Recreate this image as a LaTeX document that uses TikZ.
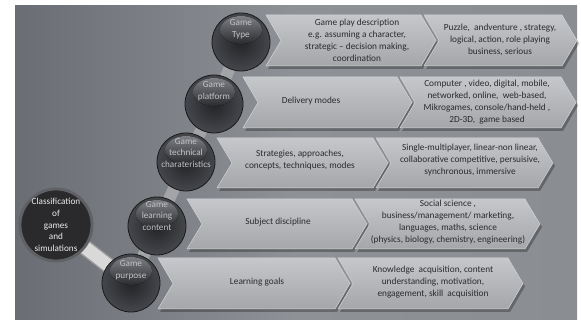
\documentclass[tikz,border=0pt]{standalone}
\usepackage{fontspec}
\setmainfont{Carlito}
\usetikzlibrary{calc}
\definecolor{bgL}{HTML}{6A6D73}
\definecolor{bgM}{HTML}{8E9196}
\definecolor{bgR}{HTML}{8A8D92}
\definecolor{chevT}{HTML}{C6C7CA}
\definecolor{chevB}{HTML}{A4A6A9}
\definecolor{chevE}{HTML}{D4D5D7}
\definecolor{txtC}{HTML}{2B2B2D}
\definecolor{ballTxt}{HTML}{C2C3C7}
\definecolor{ballIn}{HTML}{222326}
\definecolor{ballOut}{HTML}{46474C}
\definecolor{hlTop}{HTML}{7E7F84}
\definecolor{hlBot}{HTML}{2A2B2F}
\definecolor{linkC}{HTML}{A2A4A7}
\definecolor{clsFill}{HTML}{2A2A2C}
\definecolor{clsRing}{HTML}{606165}
\pgfdeclarelayer{back}
\pgfsetlayers{back,main}
\tikzset{
  chevbox/.style={top color=chevT, bottom color=chevB, draw=chevE, line width=0.5pt},
  chevshadow/.style={fill=black, opacity=0.28},
  chevtxt/.style={text=txtC, font=\fontsize{9.3}{12}\selectfont, align=center, inner sep=0pt},
  ballnode/.style={circle, minimum size=58pt, inner sep=0pt, draw=black!90, line width=0.8pt,
    inner color=ballIn, outer color=ballOut},
  balltxt/.style={text=ballTxt, font=\fontsize{9.2}{11.6}\selectfont, align=center, inner sep=0pt},
  linkband/.style={draw=linkC, line width=12pt},
  clsnode/.style={circle, minimum size=72pt, inner sep=0pt, fill=clsFill, draw=clsRing, line width=2.8pt},
}
% left, body end, top, bottom
\newcommand\chevron[4]{%
  \fill[chevshadow] ({#1+2},{#3+3}) -- ({#2+2},{#3+3}) -- ({#2+17},{(#3+#4)/2+3}) -- ({#2+2},{#4+3}) -- ({#1+2},{#4+3}) -- ({#1+17},{(#3+#4)/2+3}) -- cycle;
  \path[chevbox] (#1,#3) -- (#2,#3) -- ({#2+15},{(#3+#4)/2}) -- (#2,#4) -- (#1,#4) -- ({#1+15},{(#3+#4)/2}) -- cycle;}
\newcommand\ballhl[1]{%
  \fill[top color=hlTop, bottom color=hlBot] ($(#1)+(0,-12)$) ellipse [x radius=21, y radius=14];}
\begin{document}
\begin{tikzpicture}[x=1pt, y=-1pt]
\useasboundingbox (0,0) rectangle (581,320);
% balls
\node[ballnode] (type) at (241,42) {};
\node[ballnode] (platform) at (214,104) {};
\node[ballnode] (technical) at (186,162) {};
\node[ballnode] (learning) at (157,226) {};
\node[ballnode] (purpose) at (131,283) {};
\node[clsnode] (cls) at (56,225) {};
\foreach \b in {type,platform,technical,learning,purpose}{\ballhl{\b}}
\node[balltxt] (typet) at ($(type)+(0,-13)$) {Game\\Type};
\node[balltxt] (platformt) at ($(platform)+(0,-13)$) {Game\\platform};
\node[balltxt] (technicalt) at ($(technical)+(0,-9)$) {Game\\technical\\charateristics};
\node[balltxt] (learningt) at ($(learning)+(0,-10)$) {Game\\learning\\content};
\node[balltxt] (purposet) at ($(purpose)+(0,-13)$) {Game\\purpose};
\node[balltxt, text=white!85!gray] (clst) at (cls) {Classification\\of\\games\\and\\simulations};
\begin{pgfonlayer}{back}
\fill[left color=bgL, right color=bgR, middle color=bgM] (15,6) rectangle (577,320);
% links
\draw[linkband] (type.center) -- (platform.center);
\draw[linkband] (platform.center) -- (technical.center);
\draw[linkband] (technical.center) -- (learning.center);
\draw[linkband] (learning.center) -- (purpose.center);
\draw[draw=black!40, line width=16pt] (cls.center) -- (purpose.center);
\draw[draw=white!70!gray, line width=13pt] (cls.center) -- (purpose.center);
% chevrons
\chevron{266}{421}{15}{66}
\chevron{424}{562}{15}{66}
\chevron{243}{397}{77}{128}
\chevron{400}{561}{77}{128}
\chevron{217}{373}{138}{188}
\chevron{376}{538}{138}{188}
\chevron{187}{352}{199}{249}
\chevron{355}{525}{199}{249}
\chevron{158}{335}{258}{309}
\chevron{338}{508}{258}{309}
\end{pgfonlayer}
% chevron texts
\node[chevtxt] (t1a) at (357,40) {Game play description\\e.g. assuming a character,\\strategic -- decision making,\\coordination};
\node[chevtxt] (t1b) at (500,40) {Puzzle,\ \ andventure , strategy,\\logical, action, role playing\\business, serious};
\node[chevtxt] (t2a) at (311,101) {Delivery modes};
\node[chevtxt] (t2b) at (487,102) {Computer , video,\ digital, mobile,\\networked, online,\ \ web-based,\\Mikrogames, console/hand-held ,\\2D-3D,\ \ game based};
\node[chevtxt] (t3a) at (300,160) {Strategies, approaches,\\concepts, techniques, modes};
\node[chevtxt] (t3b) at (470,160) {Single-multiplayer, linear-non linear,\\collaborative competitive, persuisive,\\synchronous, immersive};
\node[chevtxt] (t4a) at (278,222) {Subject discipline};
\node[chevtxt] (t4b) at (448,222) {Social science ,\\business/management/ marketing,\\languages, maths, science\\(physics, biology, chemistry, engineering)};
\node[chevtxt] (t5a) at (257,282) {Learning goals};
\node[chevtxt] (t5b) at (433,282) {Knowledge\ \ acquisition, content\\understanding, motivation,\\engagement, skill\ \ acquisition};
\end{tikzpicture}
\end{document}
